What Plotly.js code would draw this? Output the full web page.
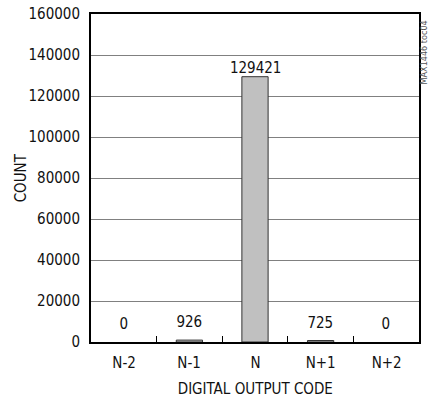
<!DOCTYPE html>
<html><head><meta charset="utf-8">
<script src="https://cdn.plot.ly/plotly-3.0.1.min.js"></script>
<style>html,body{margin:0;padding:0;background:#fff}
.main-svg text{font-stretch:condensed}</style>
</head><body>
<div id="chart" style="width:429px;height:400px"></div>
<script>
const categories = ["N-2", "N-1", "N", "N+1", "N+2"];
const counts = [0, 926, 129421, 725, 0];
const yTicks = [0, 20000, 40000, 60000, 80000, 100000, 120000, 140000, 160000];
const xTitle = 'DIGITAL OUTPUT CODE';
const yTitle = 'COUNT';
const watermark = 'MAX1446 toc04';

const FONT = "DejaVu Sans, sans-serif";

const annotations = categories.map((c, i) => ({
  x: c, y: counts[i], xref: 'x', yref: 'y',
  text: String(counts[i]), showarrow: false,
  yanchor: 'bottom', yshift: counts[i] > 50000 ? -2 : 7,
  font: {family: FONT, size: 15, color: '#111'}
}));
categories.forEach(c => annotations.push({
  x: c, y: 0, xref: 'x', yref: 'paper', text: c, showarrow: false,
  xanchor: 'center', yanchor: 'middle', yshift: -21,
  font: {family: FONT, size: 15, color: '#111'}
}));
annotations.push({
  xref: 'paper', yref: 'paper', x: 1.0, y: 1.0, xanchor: 'center', yanchor: 'top',
  xshift: 5, text: watermark, textangle: -90, showarrow: false,
  font: {family: FONT, size: 9, color: '#555'}
});
annotations.push({
  xref: 'paper', yref: 'paper', x: 0.5, y: 0, xanchor: 'center', yanchor: 'middle',
  yshift: -47, text: xTitle, showarrow: false,
  font: {family: FONT, size: 15, color: '#111'}
});
annotations.push({
  xref: 'paper', yref: 'paper', x: 0, y: 0.5, xanchor: 'center', yanchor: 'middle',
  xshift: -70, text: yTitle, textangle: -90, showarrow: false,
  font: {family: FONT, size: 15, color: '#111'}
});

Plotly.newPlot('chart', [{
  type: 'bar', x: categories, y: counts, width: 0.4,
  marker: {color: '#c0c0c0', line: {color: '#333', width: counts.map(v => v > 0 ? 1 : 0)}},
  hoverinfo: 'none'
}], {
  width: 429, height: 400,
  margin: {l: 91, r: 10, t: 14, b: 58, pad: 0},
  paper_bgcolor: '#fff', plot_bgcolor: '#fff',
  showlegend: false,
  font: {family: FONT, size: 15, color: '#111'},
  xaxis: {
    type: 'category', range: [-0.5, 4.5],
    showline: true, linecolor: '#000', linewidth: 2, mirror: true,
    ticks: 'inside', tickson: 'boundaries', ticklen: 6, tickcolor: '#000', tickwidth: 1,
    showticklabels: false, showgrid: false, zeroline: false
  },
  yaxis: {
    range: [0, 160000], tickvals: yTicks, ticktext: yTicks.map(String),
    showline: true, linecolor: '#000', linewidth: 2, mirror: true,
    ticks: 'outside', ticklen: 6, tickcolor: 'rgba(0,0,0,0)',
    showgrid: true, gridcolor: '#808080', gridwidth: 1, zeroline: false
  },
  annotations: annotations
}, {displayModeBar: false, staticPlot: true});
</script>
</body></html>
